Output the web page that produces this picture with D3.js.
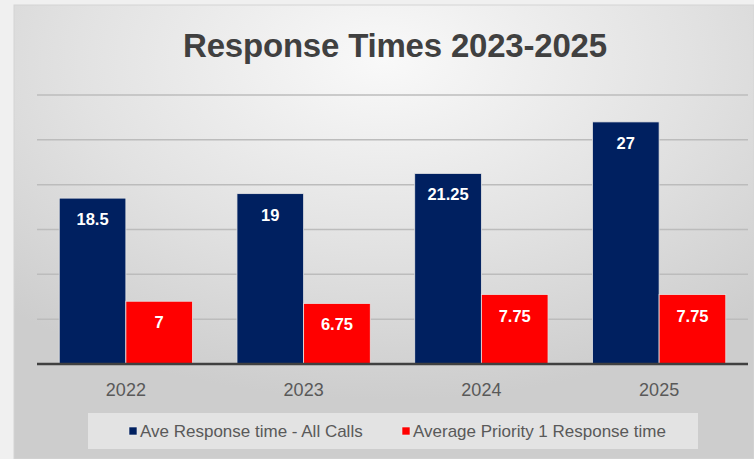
<!DOCTYPE html>
<html>
<head>
<meta charset="utf-8">
<script src="https://cdn.jsdelivr.net/npm/d3@7"></script>
<style>
  html, body { margin: 0; padding: 0; background: #f0f0f0; }
  svg { display: block; }
</style>
</head>
<body>
<svg id="chart" width="754" height="459"></svg>
<script>
const categories = ["2022", "2023", "2024", "2025"];
const seriesNames = ["Ave Response time - All Calls", "Average Priority 1 Response time"];
const allCalls = [18.5, 19, 21.25, 27];
const priority1 = [7, 6.75, 7.75, 7.75];
const yTicks = [0, 5, 10, 15, 20, 25, 30];
const colors = ["#002060", "#ff0000"];
const titleText = "Response Times 2023-2025";

const svg = d3.select("#chart");
const W = 754, H = 459;

// background
const defs = svg.append("defs");
const rg = defs.append("radialGradient").attr("id", "bg")
  .attr("cx", "0.5").attr("cy", "0.12").attr("r", "0.75")
  .attr("gradientUnits", "objectBoundingBox");
rg.append("stop").attr("offset", "0").attr("stop-color", "#f9f9f9");
rg.append("stop").attr("offset", "0.55").attr("stop-color", "#e2e2e2");
rg.append("stop").attr("offset", "1").attr("stop-color", "#cdcdcd");

svg.append("rect").attr("width", W).attr("height", H).attr("fill", "#f0f0f0");
svg.append("rect").attr("x", 14).attr("y", 5).attr("width", W - 14).attr("height", H - 5)
  .attr("fill", "url(#bg)").attr("stroke", "#d4d4d4").attr("stroke-width", 1);

const plot = { left: 37, right: 748, top: 95, bottom: 364 };

const x = d3.scaleBand().domain(categories).range([plot.left, plot.right])
  .paddingInner(0.25).paddingOuter(0.125);
const xs = d3.scaleBand().domain([0, 1]).range([0, x.bandwidth()]).padding(0);
const y = d3.scaleLinear().domain([0, 30]).range([plot.bottom, plot.top]);

// gridlines
svg.append("g").selectAll("line").data(yTicks.filter(d => d > 0)).join("line")
  .attr("x1", plot.left).attr("x2", plot.right)
  .attr("y1", d => y(d)).attr("y2", d => y(d))
  .attr("stroke", "#bcbcbc").attr("stroke-width", 1.5);

// title
svg.append("text").attr("x", 395).attr("y", 57).attr("text-anchor", "middle")
  .attr("font-family", "Liberation Sans, Arial, sans-serif").attr("font-weight", "bold")
  .attr("font-size", 33).attr("fill", "#404040").attr("letter-spacing", -0.2)
  .text(titleText);

// bars
const data = categories.map((c, i) => ({ c, vals: [allCalls[i], priority1[i]] }));
const groups = svg.append("g").selectAll("g").data(data).join("g")
  .attr("transform", d => `translate(${x(d.c)},0)`);

groups.selectAll("rect").data(d => d.vals.map((v, k) => ({ v, k }))).join("rect")
  .attr("x", d => xs(d.k)).attr("width", xs.bandwidth())
  .attr("y", d => y(d.v)).attr("height", d => y(0) - y(d.v))
  .attr("fill", d => colors[d.k])
  .attr("stroke", "#e4e4e4").attr("stroke-width", 0.8);

groups.selectAll("text").data(d => d.vals.map((v, k) => ({ v, k }))).join("text")
  .attr("x", d => xs(d.k) + xs.bandwidth() / 2)
  .attr("y", d => y(d.v) + 27)
  .attr("text-anchor", "middle")
  .attr("font-family", "Liberation Sans, Arial, sans-serif").attr("font-weight", "bold")
  .attr("font-size", 16.5).attr("fill", "#ffffff")
  .text(d => d.v);

// x axis
const xAxis = d3.axisBottom(x).tickSize(0).tickPadding(0);
const gx = svg.append("g").attr("transform", `translate(0,${plot.bottom})`).call(xAxis);
gx.select(".domain").remove();
gx.append("line").attr("x1", plot.left).attr("x2", plot.right).attr("y1", 0).attr("y2", 0)
  .attr("stroke", "#404040").attr("stroke-width", 2.5);
gx.selectAll(".tick text").attr("y", 32).attr("dy", null)
  .attr("font-family", "Liberation Sans, Arial, sans-serif").attr("font-size", 18)
  .attr("fill", "#595959");

// legend
svg.append("rect").attr("x", 88).attr("y", 413).attr("width", 610).attr("height", 36)
  .attr("fill", "#e6e6e6").attr("opacity", 0.85);
const legendX = [129, 402];
const lg = svg.append("g").selectAll("g").data(seriesNames).join("g")
  .attr("transform", (d, i) => `translate(${legendX[i]},427)`);
lg.append("rect").attr("width", 8).attr("height", 8)
  .attr("fill", (d, i) => colors[i]).attr("stroke", "#eeeeee").attr("stroke-width", 0.6);
lg.append("text").attr("x", 11).attr("y", 10)
  .attr("font-family", "Liberation Sans, Arial, sans-serif").attr("font-size", 17)
  .attr("fill", "#595959").text(d => d);
</script>
</body>
</html>
